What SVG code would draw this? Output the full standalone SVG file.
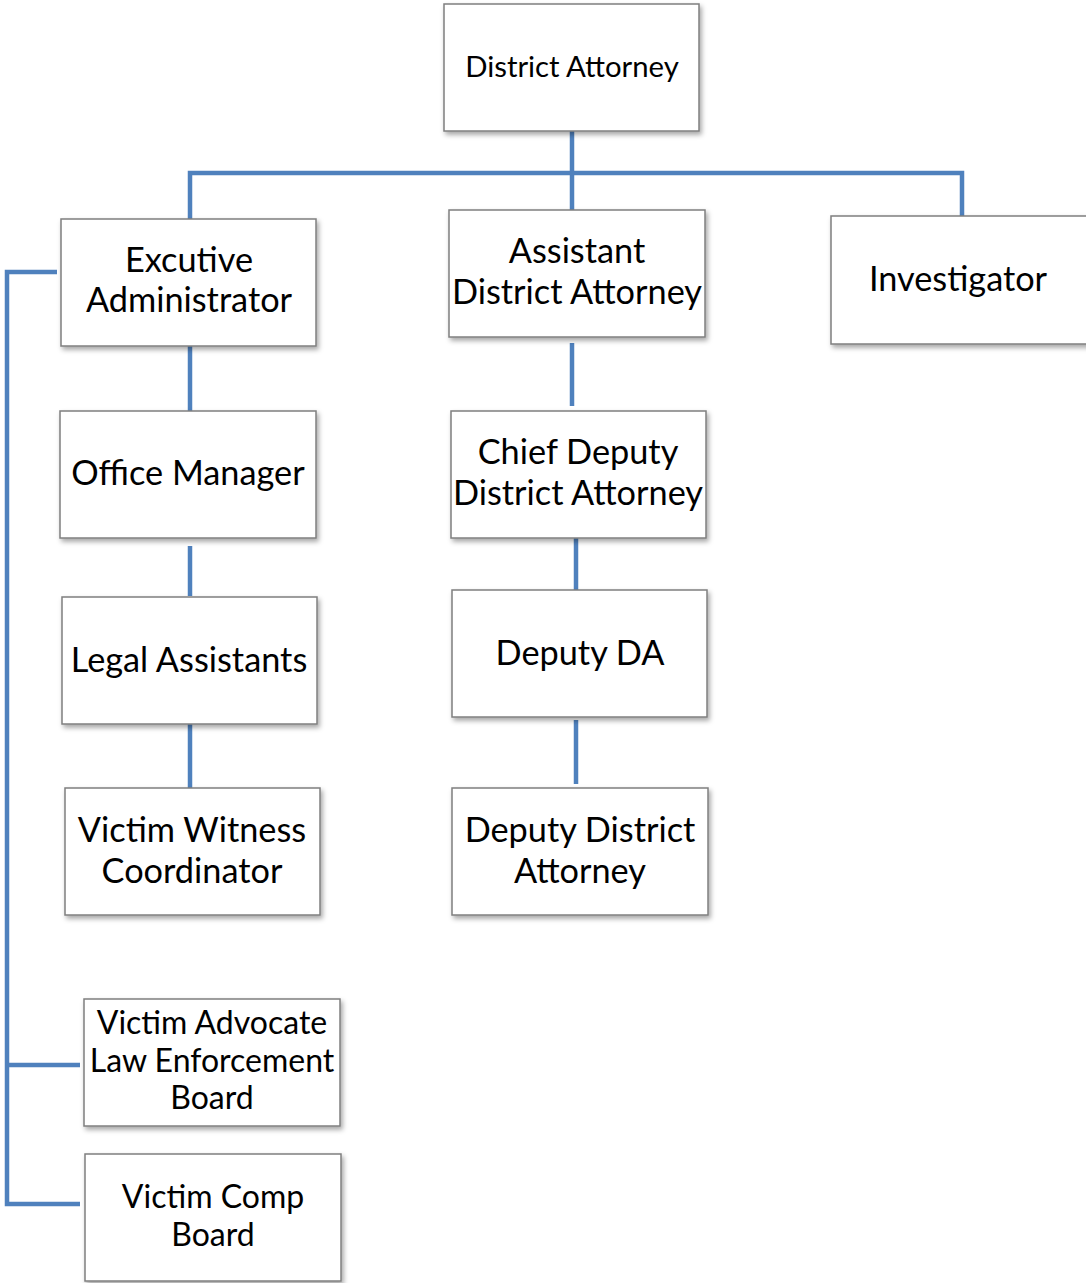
<svg xmlns="http://www.w3.org/2000/svg" width="1086" height="1283" viewBox="0 0 1086 1283">
<defs>
<filter id="sh" x="-10%" y="-10%" width="130%" height="130%">
<feDropShadow dx="2" dy="3" stdDeviation="2.5" flood-color="#000" flood-opacity="0.35"/>
</filter>
</defs>
<style>
.box{fill:#fff;stroke:#7f7f7f;stroke-width:1.5;filter:url(#sh)}
.t{font-family:Lato,"Open Sans","Liberation Sans",sans-serif;font-size:34.3px;fill:#000;text-anchor:middle}
.s{font-size:29.3px}
.m{font-size:32px}
.c{fill:none;stroke:#4f81bd;stroke-width:4.5}
</style>
<rect width="1086" height="1283" fill="#fff"/>
<g id="connectors">
<path class="c" d="M572 131V210"/>
<path class="c" d="M190 219V173H962V216"/>
<path class="c" d="M190 346V411"/>
<path class="c" d="M190 546V596"/>
<path class="c" d="M190 724V788"/>
<path class="c" d="M572 343V406"/>
<path class="c" d="M576 538V590"/>
<path class="c" d="M576 720V784"/>
<path class="c" d="M57 272H7V1204H80"/>
<path class="c" d="M7 1065H80"/>
</g>
<g id="n-da"><rect class="box" x="444" y="4" width="255" height="127"/><text class="t s" x="572" y="77">District Attorney</text></g>
<g id="n-exec"><rect class="box" x="61" y="219" width="255" height="127"/><text class="t" x="189" y="272">Excutive</text><text class="t" x="189" y="312">Administrator</text></g>
<g id="n-ada"><rect class="box" x="449" y="210" width="256" height="127"/><text class="t" x="577" y="263">Assistant</text><text class="t" x="577" y="304">District Attorney</text></g>
<g id="n-inv"><rect class="box" x="831" y="216" width="262" height="128"/><text class="t" x="958" y="291">Investigator</text></g>
<g id="n-om"><rect class="box" x="60" y="411" width="256" height="127"/><text class="t" x="188" y="485">Office Manager</text></g>
<g id="n-cdda"><rect class="box" x="451" y="411" width="255" height="127"/><text class="t" x="578" y="464">Chief Deputy</text><text class="t" x="578" y="505">District Attorney</text></g>
<g id="n-la"><rect class="box" x="62" y="597" width="255" height="127"/><text class="t" x="189" y="672">Legal Assistants</text></g>
<g id="n-dda"><rect class="box" x="452" y="590" width="255" height="127"/><text class="t" x="580" y="665">Deputy DA</text></g>
<g id="n-vwc"><rect class="box" x="65" y="788" width="255" height="127"/><text class="t" x="192" y="842">Victim Witness</text><text class="t" x="192" y="883">Coordinator</text></g>
<g id="n-ddatty"><rect class="box" x="452" y="788" width="256" height="127"/><text class="t" x="580" y="842">Deputy District</text><text class="t" x="580" y="883">Attorney</text></g>
<g id="n-valeb"><rect class="box" x="84" y="999" width="256" height="127"/><text class="t m" x="212" y="1034">Victim Advocate</text><text class="t m" x="212" y="1072">Law Enforcement</text><text class="t m" x="212" y="1109">Board</text></g>
<g id="n-vcb"><rect class="box" x="85" y="1154" width="256" height="127"/><text class="t m" x="213" y="1208">Victim Comp</text><text class="t m" x="213" y="1246">Board</text></g>
</svg>
